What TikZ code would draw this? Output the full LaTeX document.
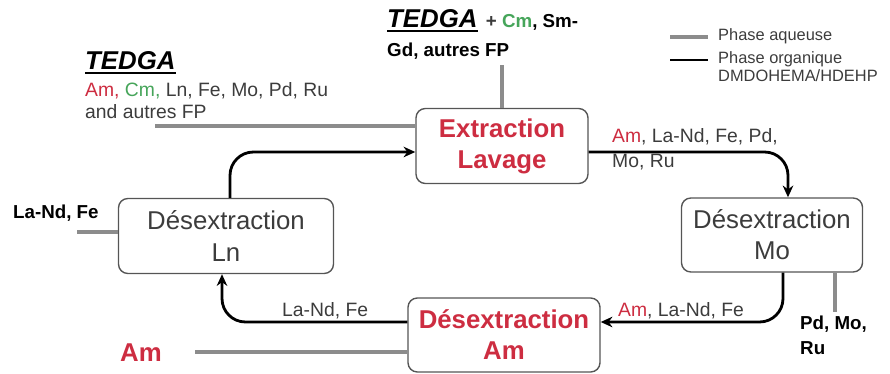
\documentclass[tikz,border=0pt]{standalone}
\usepackage{fontspec}
\setmainfont{Liberation Sans}
\usetikzlibrary{arrows.meta,calc}
\definecolor{rouge}{RGB}{205,45,65}
\definecolor{vert}{RGB}{70,165,90}
\definecolor{aqgris}{RGB}{140,140,140}
\definecolor{cadre}{RGB}{85,85,85}
\definecolor{texte}{RGB}{60,60,60}

\begin{document}
\begin{tikzpicture}[x=0.03cm,y=-0.03cm,
	etape/.style={draw=cadre,line width=1.2pt,rounded corners=8pt,align=center,
		font=\fontsize{22}{26.5}\selectfont,text=texte},
	etapeam/.style={etape,font=\fontsize{22}{26.5}\selectfont\bfseries,text=rouge},
	aq/.style={draw=aqgris,line width=3.4pt},
	org/.style={draw=black,line width=2.4pt,rounded corners=20pt,-{Stealth[length=10pt,width=9pt]}},
	lab/.style={anchor=base west,inner sep=0pt,font=\fontsize{16.5}{21}\selectfont,text=texte},
	labg/.style={lab,font=\fontsize{16}{21}\selectfont\bfseries,text=black},
	tedga/.style={anchor=base west,inner sep=0pt,font=\fontsize{22}{26}\selectfont\bfseries\itshape},
	leg/.style={anchor=base west,inner sep=0pt,font=\fontsize{14}{17}\selectfont,text=texte}]
\useasboundingbox (0,0) rectangle (890,374);

% les quatre etapes
\node[etapeam,minimum width=5.16cm,minimum height=2.25cm] (ext) at (502,146) {Extraction\\Lavage};
\node[etape,minimum width=6.45cm,minimum height=2.25cm] (ln) at (226,236) {Désextraction\\Ln};
\node[etape,minimum width=5.43cm,minimum height=2.22cm] (mo) at (772,235) {Désextraction\\Mo};
\node[etapeam,minimum width=5.76cm,minimum height=2.22cm] (am) at (504,335) {Désextraction\\Am};

% phase organique
\draw[org] ($(ln.north)+(4,0)$) |- ($(ext.west)+(0,6)$);
\draw[org] ($(ext.east)+(0,6)$) -| ($(mo.north)+(16,0)$);
\draw[org] ($(mo.south)+(11,0)$) |- ($(am.east)+(0,-13)$);
\draw[org] ($(am.west)+(0,-13)$) -| ($(ln.south)+(-4,0)$);

% phase aqueuse
\coordinate (alim) at (155,126);
\coordinate (extsortie) at (502,65);
\coordinate (lnsortie) at (77,232);
\coordinate (mosortie) at (835,312);
\coordinate (amsortie) at (195,352);
\draw[aq] (alim) -- (alim -| ext.west);
\draw[aq] (ext.north) -- (extsortie);
\draw[aq] (lnsortie) -- (lnsortie -| ln.west);
\draw[aq] (mosortie |- mo.south) -- (mosortie);
\draw[aq] (amsortie) -- (amsortie -| am.west);

% alimentation
\node[tedga] (tedgag) at (85,70) {TEDGA};
\draw[line width=2pt] ($(tedgag.base west)+(0,3)$) -- ($(tedgag.base east)+(0,3)$);
\node[lab] (alim1) at (85,97) {{\color{rouge}Am,} {\color{vert}Cm,} Ln, Fe, Mo, Pd, Ru};
\node[lab] (alim2) at (85,119) {and autres FP};

% sortie extraction
\node[tedga] (tedgah) at (387,28) {TEDGA};
\draw[line width=2pt] ($(tedgah.base west)+(0,3)$) -- ($(tedgah.base east)+(0,3)$);
\node[labg,text=texte] (ext1) at ($(tedgah.base east)+(8,0)$) {+ {\color{vert}Cm}{\color{black}, Sm-}};
\node[labg] (ext2) at (387,57) {Gd, autres FP};

% flux entre etapes
\node[lab] (fl1) at (612,143) {{\color{rouge}Am}, La-Nd, Fe, Pd,};
\node[lab] (fl2) at (612,168) {Mo, Ru};
\node[lab] (fl3) at (618,317) {{\color{rouge}Am}, La-Nd, Fe};
\node[lab] (fl4) at (282,317) {La-Nd, Fe};

% sorties
\node[labg] (slx) at (13,219) {La-Nd, Fe};
\node[labg] (smo1) at (800,330) {Pd, Mo,};
\node[labg] (smo2) at (800,355) {Ru};
\node[tedga,font=\fontsize{22}{26}\selectfont\bfseries,text=rouge] (sam) at (120,362) {Am};

% legende
\node[leg] (legaq) at (718,41) {Phase aqueuse};
\node[leg] (legorg) at (718,64) {Phase organique};
\node[leg] (legdm) at (718,82) {DMDOHEMA/HDEHP};
\draw[aq] ($(legaq.west)+(-48,0)$) -- ($(legaq.west)+(-10,0)$);
\draw[line width=1.5pt] ($(legorg.west)+(-48,0)$) -- ($(legorg.west)+(-10,0)$);
\end{tikzpicture}
\end{document}
